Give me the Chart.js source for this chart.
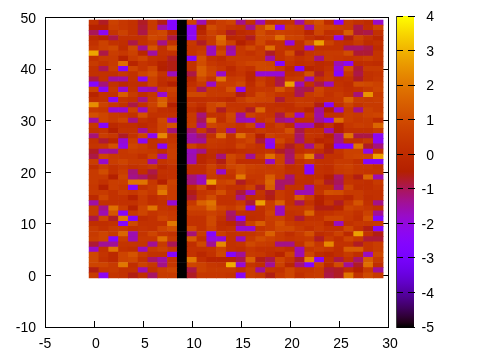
<!DOCTYPE html>
<html>
<head>
<meta charset="utf-8">
<style>
  html, body { margin: 0; padding: 0; background: #fff; }
  #wrap { position: relative; width: 480px; height: 360px; overflow: hidden; }
  canvas { position: absolute; top: 0; }
  #heat { left: 0; }
  #bar { left: 396px; }
</style>
<script src="https://cdn.jsdelivr.net/npm/chart.js@4/dist/chart.umd.js"></script>
</head>
<body>
<div id="wrap">
  <canvas id="heat" width="480" height="360"></canvas>
  <canvas id="bar" width="84" height="360"></canvas>
</div>
<script>
/* ============================================================
   DATA (first row is y = 49)
============================================================ */
const columns = [0,1,2,3,4,5,6,7,8,9,10,11,12,13,14,15,16,17,18,19,20,21,22,23,24,25,26,27,28,29];
const rowsY = [49,48,47,46,45,44,43,42,41,40,39,38,37,36,35,34,33,32,31,30,29,28,27,26,25,24,23,22,21,20,19,18,17,16,15,14,13,12,11,10,9,8,7,6,5,4,3,2,1,0];
const cells = [
  [.2,-.7,.7,.4,.2,-.7,.5,-.6,-2.6,-5,.8,-1.6,.2,.6,.8,-1.3,.2,-1.6,.1,.3,.3,-1.5,.7,1.1,0,-2.6,.5,.2,0,-1.8],
  [-.4,-.4,.6,.4,.2,-.8,.5,-1.5,-2.6,-5,-2.3,-.5,1,.6,.3,.2,-1.3,.9,1.8,-2.3,.7,.6,-1.5,.9,.7,.6,.5,-.9,.1,.8],
  [-1,-2.3,.3,.7,.2,-.9,.7,.9,-.2,-5,-2.3,-.2,.7,.4,-.7,-.1,.1,1,.5,.7,.6,.5,-.2,.8,.1,.2,1.4,-.8,-.9,.2],
  [-.1,-.3,-.9,.2,.2,.2,.9,.7,-.9,-5,-2.3,.2,.5,1.8,-.2,-.1,-.7,.9,.8,1.8,.8,.7,.2,-.1,.1,-2.2,-.6,.7,.2,-.2],
  [.2,.7,.2,.1,-.9,.2,.5,-1.3,.2,-5,.4,-.7,.5,1.5,.7,-.5,.1,.9,.2,.3,-2,.1,1,2.7,.7,.2,.1,.5,0,.2],
  [.4,.7,.9,0,.9,-1.4,1.2,.2,1.2,-5,.3,.4,-1.7,.5,-1.4,.4,.9,.4,1.8,.3,.2,.1,-1.9,.2,.2,.2,-1.1,-1.1,-.9,0],
  [2.8,-.9,.6,.4,.7,-.2,-1.5,.2,.2,-5,.3,.6,-1.7,.9,-1.6,.4,.2,.5,-.7,.2,1.1,-.6,.3,.4,.5,.5,1,-.8,-.8,.3],
  [.2,.5,.5,-.4,.5,.8,.2,.1,-.7,-5,-2.6,1.1,.2,0,.5,.5,.5,.4,-1.5,.2,.5,.2,.4,-1.3,.5,.4,.3,.4,.6,.3],
  [.5,.2,.5,1.8,-.3,.3,.1,-.4,-.6,-5,.2,1,.4,.2,.3,.6,.8,.9,.8,-2.6,.3,.1,.2,-.1,0,-1.6,-2.3,0,.1,0],
  [.2,-1,.6,-2.5,.8,.3,.8,-.5,-.6,-5,.2,1.4,.7,.4,-.1,.4,.2,.9,.9,.5,-.1,-2.6,-.3,-.1,.2,-2,1,-.8,.5,.5],
  [.2,.2,.2,.4,.2,.8,1.1,.3,-1.7,-5,-.9,1.4,.8,-1.8,.1,.3,-.2,-1.9,-1.9,-1.9,.1,.2,1.1,-.7,.4,-2.6,.5,-.9,.2,.3],
  [-.9,.2,-1.5,-1.5,.2,-2.3,.7,.1,.2,-5,-.2,.9,.3,1.9,.5,.6,-.2,.5,.1,-.9,.4,.5,-1.7,.2,.5,.1,.2,-.7,.2,.4],
  [-2.6,-1.2,.2,-.1,.1,.1,.7,0,-.5,-5,.1,.5,-1.8,.6,.6,.9,0,.7,.1,-.9,2.7,-1.6,.2,-.9,-1.7,.2,0,1,.9,.7],
  [.7,-2.4,.4,-1.9,.2,-1.8,-1.5,.5,.7,-5,.4,-1,.5,.4,1.1,-2.3,.2,.4,.4,1.2,.5,-1,-.9,.8,.3,.3,.1,.2,.5,.8],
  [-.3,.2,.2,1.4,.5,.1,.4,-1.9,.5,-5,.9,.9,.5,.5,.5,-.6,.2,.9,.6,.3,.2,-1,.5,.7,.2,.5,.2,-1.2,2.5,.5],
  [.1,.2,-2.4,.3,.2,-1.3,.5,1.4,.3,-5,.1,.1,.2,.1,-.1,.5,.9,.8,.7,-.8,.3,.5,.4,.2,.3,.4,1.5,.6,.5,.6],
  [2.4,.7,.4,.2,-.9,.2,.7,1.6,-.5,-5,.4,.1,.8,1.1,.3,.3,.4,.2,.2,.1,.1,.5,.5,-.6,-2.5,.2,.8,.3,.5,.5],
  [.5,.4,-1.9,-1.9,.7,-1.7,.5,.1,0,-5,.1,-.3,.8,-.7,.4,.3,-.7,1.6,.2,.3,.1,.2,-.2,-1.4,-.5,-1.8,.5,-1.3,.7,.5],
  [1.1,.8,.5,.4,.2,1.1,.2,.2,.2,-5,.5,-1.2,.2,.2,.9,-1.4,.7,.4,.3,-.9,.8,-1.9,.4,-1.5,.2,.2,.6,.5,.7,.8],
  [-1.5,.8,.5,.8,-1.3,.2,0,.9,-1.7,-5,.5,-1,1.9,.1,.8,-1.6,-1.8,.3,.6,-1.2,-1.5,.2,.2,-1.4,-2.3,1.8,.6,.4,.5,0],
  [.4,-2.6,-.1,.1,.1,-.1,.1,.8,1.2,-5,.6,-1.4,.8,.6,.5,.3,.8,-1.7,.2,.6,.1,-1.7,-1.7,-.6,.2,-.5,.4,.6,.5,1.6],
  [.2,.3,-.5,.2,.2,-1.4,.2,.8,-1.2,-5,-1.1,.5,-.8,.5,-1.4,.2,.2,.5,.3,.4,1.1,-.9,.2,.2,-1.5,-.5,.2,.2,.2,.5],
  [-1.2,.6,.4,-.7,.2,.8,-2.4,2.3,.2,-5,-1.5,-1.1,.2,1.8,.2,1.8,.7,-.5,.7,.5,.5,-1.1,.3,.2,-.3,-1.3,1.9,-.9,-.9,-2.3],
  [.2,-.8,-.2,-1.9,.6,-2.3,.2,.3,.3,-5,-1.5,-1.4,.5,.4,.2,.5,.8,-.8,-2.1,.9,.3,-1.2,.2,-.3,-.1,-1.3,.2,.2,.5,-2.3],
  [.3,.4,1.1,-2.1,.8,.6,.2,-2.5,.5,-5,.7,.2,.4,.3,.2,.8,.4,.2,-2.5,.3,-.7,.2,-1.4,.7,-.5,-2.6,-2.6,1.9,-.7,-1.2],
  [-.7,-1.5,-1.4,.4,.6,.5,.4,.1,.6,-5,-1.7,-1.3,.1,0,-.1,.1,.2,.2,.3,-.7,-1,.1,.3,.1,-.6,.3,.7,.7,-2.1,.3],
  [-.9,.8,.5,.4,.4,.1,.7,-1.6,.6,-5,-1.6,-.2,0,-1.2,.9,.5,-1.4,.5,1.8,.7,-1.1,.8,2.2,-1,.2,.2,.7,.8,.8,2.7],
  [.6,-1.8,.6,.8,.5,.5,-1.5,.3,.5,-5,-1.6,-.2,.2,-.6,.8,.1,.1,.1,-1.7,.7,-1.2,.2,.5,.2,.2,.5,.5,.2,-2.6,-2.6],
  [.1,.6,.2,.4,.2,.3,.5,-.1,.2,-5,.1,.1,.7,.2,.8,1,.7,.6,.5,.6,.1,.2,-2.6,.2,.1,.6,.7,.4,.4,.2],
  [.5,1,.2,.6,-1.2,.1,-.9,.2,.2,-5,.1,.1,.6,-1.8,.4,1,.6,.5,.6,.5,.2,.2,-2.6,.2,.1,.5,.6,.4,.3,.3],
  [.5,.5,-.5,.8,-1.3,-1.1,-.7,.1,.2,-5,-1.2,-1.6,.5,.3,.2,2,.4,.4,1.4,.5,-1.2,.2,.1,.1,-.5,-1.1,.2,-.6,1.6,-1.6],
  [.5,.2,.6,.6,1.9,1.9,.4,-.5,.7,-5,-1.2,-1.7,2.7,.7,.9,-.7,.2,.5,1.6,-1.1,-1.1,.1,.1,.6,-.7,-1,.3,.2,.1,.5],
  [.4,-.5,.6,.4,-2.6,.2,.5,1.5,.6,-5,0,.8,-.3,.5,.2,.2,.7,-.7,1.4,-1.1,.2,.2,-1.6,.2,.2,-1.2,.8,.1,.1,.3],
  [.5,.5,.2,.6,.4,.7,.4,2,.5,-5,-.6,.3,.5,1.1,.3,-.8,-1.7,.3,-.7,.5,.2,-1.6,-1.6,.3,1.1,1,.5,.5,.2,.2],
  [-.1,.8,.2,.2,-.4,.5,0,.3,.5,-5,-.8,.4,1,.2,.2,-1.3,.1,.2,-.6,.5,.2,1.4,.6,-.4,.1,.1,-.2,.5,.1,.2],
  [-1.5,.2,.2,.2,.2,.5,.1,.2,-1.9,-5,.4,1.5,1.9,.2,.2,.5,-.8,2.7,.6,1.5,.2,-1,.2,-.5,.3,-.7,.4,1.2,.2,-1.3],
  [.5,-1.3,1.8,.6,-.4,.8,1.9,.3,.2,-5,.8,.8,1.6,.8,.5,.9,-2.6,.2,.6,-1.7,.4,.4,.6,-.6,-.6,-.3,.8,.6,.4,.2],
  [.5,-1.6,1.2,-2.5,.5,.8,.3,.5,.4,-5,.5,.5,.7,.5,-1.1,.2,.1,.1,.8,-1.7,.2,.3,1.6,.1,.2,.4,.5,.2,.7,-1.4],
  [-.9,.8,-.7,2,-2.6,0,.2,.8,.5,-5,.2,.2,.9,.2,-1,-2.6,0,.1,.6,.7,.2,-.8,.2,.2,.8,.8,.4,.1,1.1,-2.6],
  [.1,.1,.2,-2.6,.9,.2,.2,.2,2,-5,.2,.2,.9,0,-.2,-1,.7,1.4,.5,1.1,.5,.3,.4,.4,-.2,-1.7,.2,.4,.4,.5],
  [.5,.2,.5,.5,.2,.3,.2,.8,1.1,-5,.9,.2,.7,.1,.2,-1.9,-1.9,.3,.5,.9,.9,.5,.2,.5,.2,.2,.9,.2,-.6,-2.5],
  [.5,.8,.5,1.6,-1.6,.3,.8,.3,.2,-5,-1.2,.6,-2.6,.6,.2,.3,.3,.5,1.5,.5,.1,.5,1.1,0,.2,.7,-.1,2.7,.2,-.6],
  [.6,.8,-2.6,.6,-1.6,.4,.4,1.8,.5,-5,1.4,.2,-2,-2,.2,-1.7,.5,1,.7,.5,.3,.4,.5,-.7,.5,.1,.8,.4,-.8,-.8],
  [-.8,-1.4,-1.4,.3,.3,.3,-1.4,.5,-1,-5,.1,.9,-1.4,2.3,.2,.3,.9,.6,.5,-1.3,-1.3,.2,1.1,.4,2.3,.2,.2,-.7,.3,.6],
  [-1.8,.2,1.9,.2,.1,-1.7,.5,.7,.4,-5,.2,.2,.3,.8,.2,.1,.4,.2,.2,.3,.1,-1.6,.4,.6,.4,.1,1.4,1.4,.3,.6],
  [.9,.3,-.1,.8,1.2,.5,.2,.2,-2.6,-5,.2,-.2,.2,.9,-2.6,-1.4,.5,.4,.1,-.3,.8,-1.6,.8,0,-.2,.1,.5,.1,-1.7,.9],
  [.9,.2,-.1,.8,.9,.2,-1.1,-1.5,.3,-5,2,.1,-.3,-.3,-.3,-.9,1.5,-.6,-.9,.8,.3,-.7,2.2,-2.4,.1,-.9,.2,-1.1,1.4,.5],
  [.8,.8,.5,2,.1,.7,.4,-1.3,.4,-5,.8,.7,.4,.3,2.9,-1.9,.3,.1,-1.4,.7,-.2,-1.2,-2.6,.8,-.1,1,-1.4,-.7,1.8,.1],
  [-.6,.4,.5,.2,.2,-1.6,.2,.6,.8,-5,-.9,.7,.5,.5,.5,.2,.6,-1.4,.3,.2,.8,.3,.3,.5,-.8,-.7,.1,-.5,.5,-1.4],
  [.5,-2.3,.3,.2,-.6,.1,-1.1,.5,.5,-5,-.7,.4,.4,.4,.3,-2.4,.6,.4,-.6,.4,.8,.1,.4,.5,-.9,-.7,1.9,.2,.9,.5]
];
const xTicks = [-5, 30];
const yTicks = [-10, 50];
const cbRange = [-5, 4];

/* ============================================================
   PALETTE (gnuplot pm3d default, rgbformulae 7,5,15)
============================================================ */
function valueColor(v) {
    const t = Math.min(1, Math.max(0, (v - cbRange[0]) / (cbRange[1] - cbRange[0])));
    const r = Math.round(255 * Math.sqrt(t));
    const g = Math.round(255 * t * t * t);
    const b = Math.round(255 * Math.max(0, Math.sin(2 * Math.PI * t)));
    return `rgb(${r},${g},${b})`;
}

const FONT = { family: "'Liberation Sans', sans-serif", size: 14 };
const INK = "#000";

// size = room kept for the axis, labels are clipped to that box
function axisBase(size) {
    return {
        grid: { drawOnChartArea: false, drawTicks: true, tickLength: -6, tickColor: INK, tickWidth: 1, offset: false },
        border: { color: INK, width: 1 },
        afterFit: s => { if (s.isHorizontal()) s.height = size; else s.width = size; }
    };
}

/* ============================================================
   HEATMAP
============================================================ */
const heatData = [];
const heatColors = [];
cells.forEach((row, r) => {
    row.forEach((v, c) => {
        heatData.push({ x: columns[c], y: [rowsY[r] - 0.5, rowsY[r] + 0.5] });
        heatColors.push(valueColor(v));
    });
});

new Chart(document.getElementById("heat"), {
    type: "bar",
    data: {
        datasets: [{
            data: heatData,
            backgroundColor: heatColors,
            borderWidth: 0,
            grouped: false,
            categoryPercentage: 1,
            barPercentage: 1
        }]
    },
    options: {
        responsive: false,
        animation: false,
        events: [],
        layout: { autoPadding: false, padding: 0 },
        plugins: { legend: { display: false }, tooltip: { enabled: false } },
        scales: {
            x: {
                ...axisBase(33), type: "linear", position: "bottom", offset: false,
                min: xTicks[0], max: xTicks[1],
                ticks: { stepSize: 5, autoSkip: false, maxRotation: 0, color: INK, font: FONT, padding: 15,
                    callback: v => (v < 0 ? "" + v : " " + v) }
            },
            x2: {
                ...axisBase(16), axis: "x", type: "linear", position: "top", offset: false,
                min: xTicks[0], max: xTicks[1],
                ticks: { stepSize: 5, display: false }
            },
            // labels only, ticks.padding also pads the plot top so it stays small
            y: {
                ...axisBase(45), type: "linear", position: "left", weight: 1,
                min: yTicks[0], max: yTicks[1],
                grid: { drawOnChartArea: false, drawTicks: false },
                ticks: { stepSize: 10, autoSkip: false, color: INK, font: FONT, padding: 9, labelOffset: 1.5 }
            },
            // tick marks on the left side
            yMarks: {
                ...axisBase(0), axis: "y", type: "linear", position: "left", weight: 0,
                min: yTicks[0], max: yTicks[1],
                ticks: { stepSize: 10, display: false }
            },
            y2: {
                ...axisBase(92), axis: "y", type: "linear", position: "right",
                min: yTicks[0], max: yTicks[1],
                ticks: { stepSize: 10, display: false }
            }
        }
    }
});

/* ============================================================
   COLORBAR
============================================================ */
function barGradient(ctx) {
    const area = ctx.chart.chartArea;
    if (!area) return "#000";
    const g = ctx.chart.ctx.createLinearGradient(0, area.bottom, 0, area.top);
    for (let i = 0; i <= 64; i++) {
        g.addColorStop(i / 64, valueColor(cbRange[0] + (cbRange[1] - cbRange[0]) * i / 64));
    }
    return g;
}

function cbAxis(size, extra) {
    const a = axisBase(size);
    a.grid = { ...a.grid, z: 1 };
    return { ...a, ...extra };
}

new Chart(document.getElementById("bar"), {
    type: "bar",
    data: {
        datasets: [{
            data: [{ x: 0, y: cbRange }],
            backgroundColor: barGradient,
            borderWidth: 0,
            categoryPercentage: 1,
            barPercentage: 1
        }]
    },
    options: {
        responsive: false,
        animation: false,
        events: [],
        layout: { autoPadding: false, padding: { right: 46 } },
        plugins: { legend: { display: false }, tooltip: { enabled: false } },
        scales: {
            x: {
                ...axisBase(33), type: "linear", position: "bottom", offset: false, min: -0.5, max: 0.5,
                grid: { display: false, drawTicks: false },
                ticks: { display: false }
            },
            x2: {
                ...axisBase(16), axis: "x", type: "linear", position: "top", offset: false, min: -0.5, max: 0.5,
                grid: { display: false, drawTicks: false },
                ticks: { display: false }
            },
            y: cbAxis(1, {
                type: "linear", position: "left", min: cbRange[0], max: cbRange[1],
                ticks: { stepSize: 1, display: false }
            }),
            y2: cbAxis(20, {
                axis: "y", type: "linear", position: "right", min: cbRange[0], max: cbRange[1],
                ticks: { stepSize: 1, autoSkip: false, color: INK, font: FONT, crossAlign: "far", padding: 0, labelOffset: 1.5 }
            })
        }
    }
});
</script>
</body>
</html>
